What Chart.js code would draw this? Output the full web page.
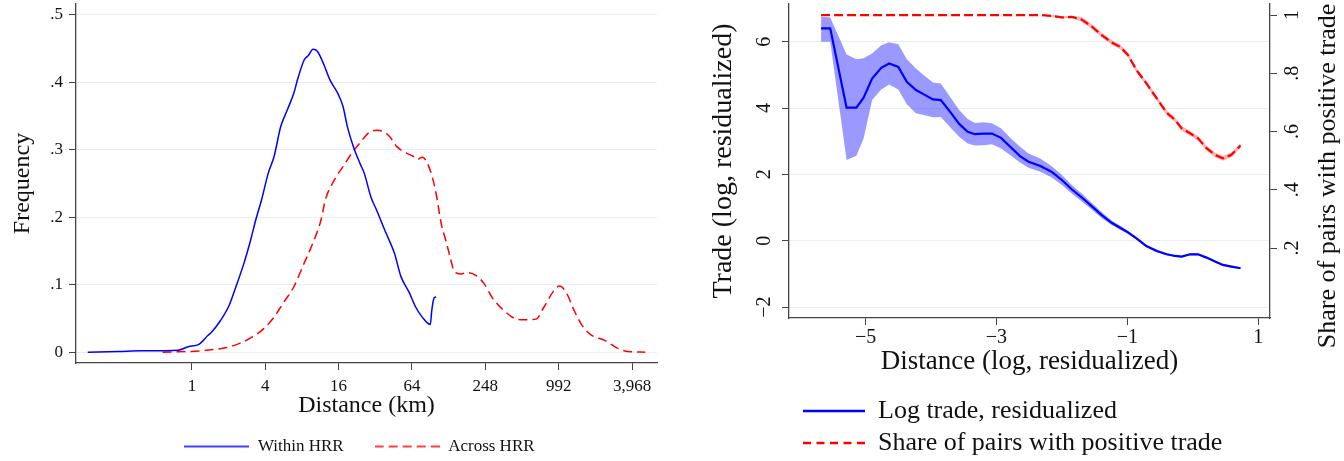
<!DOCTYPE html>
<html>
<head>
<meta charset="utf-8">
<script src="https://cdn.jsdelivr.net/npm/chart.js@4/dist/chart.umd.min.js"></script>
<style>
  html, body { margin: 0; padding: 0; background: #fff; }
  #wrap { position: relative; width: 1344px; height: 461px; overflow: hidden; }
  canvas { position: absolute; top: 0; }
  #left { left: 0; }
  #right { left: 680px; }
</style>
</head>
<body>
<div id="wrap">
  <canvas id="left" width="670" height="461"></canvas>
  <canvas id="right" width="664" height="461"></canvas>
</div>
<script>
// Left panel: density of pair distances, x in log-4 tick units (0 = 1 km)
const withinDist = [-1.42, -1.0, -0.70, -0.19, -0.05, 0.10, 0.22, 0.27, 0.39, 0.51, 0.60, 0.71, 0.80, 0.87, 0.95,
  1.04, 1.12, 1.21, 1.30, 1.39, 1.44, 1.53, 1.59, 1.65, 1.71, 1.80, 1.88, 2.00, 2.06, 2.12, 2.20, 2.29, 2.35,
  2.44, 2.52, 2.64, 2.76, 2.85, 2.96, 3.05, 3.14, 3.25, 3.27, 3.30, 3.33];
const withinFreq = [0, 0.001, 0.002, 0.003, 0.008, 0.012, 0.025, 0.030, 0.047, 0.070, 0.097, 0.132, 0.166, 0.196, 0.226,
  0.265, 0.290, 0.334, 0.359, 0.384, 0.404, 0.433, 0.440, 0.449, 0.446, 0.426, 0.404, 0.381, 0.364, 0.334, 0.305, 0.280, 0.265,
  0.230, 0.210, 0.178, 0.147, 0.112, 0.089, 0.067, 0.052, 0.041, 0.062, 0.080, 0.082];
const acrossDist = [-0.40, 0.13, 0.30, 0.48, 0.65, 0.83, 0.98, 1.12, 1.24, 1.39, 1.53, 1.65, 1.76, 1.82, 1.94, 2.06, 2.18,
  2.29, 2.41, 2.52, 2.61, 2.70, 2.79, 2.91, 3.02, 3.08, 3.14, 3.23, 3.32, 3.40, 3.46, 3.52, 3.58, 3.67, 3.75, 3.87, 3.98,
  4.10, 4.25, 4.40, 4.54, 4.69, 4.80, 4.92, 5.01, 5.10, 5.21, 5.33, 5.45, 5.62, 5.80, 5.95, 6.18];
const acrossFreq = [0, 0.002, 0.004, 0.007, 0.013, 0.023, 0.035, 0.052, 0.072, 0.097, 0.132, 0.162, 0.196, 0.226, 0.255, 0.275, 0.295,
  0.310, 0.325, 0.329, 0.327, 0.319, 0.305, 0.296, 0.290, 0.286, 0.289, 0.275, 0.240, 0.190, 0.166, 0.141, 0.119, 0.116, 0.118, 0.114, 0.102,
  0.080, 0.062, 0.050, 0.048, 0.049, 0.067, 0.089, 0.098, 0.089, 0.062, 0.038, 0.025, 0.018, 0.006, 0.001, 0];
const distTicks = [0, 1, 2, 3, 4, 5, 6];
const distTickLabels = ['1', '4', '16', '64', '248', '992', '3,968'];
const freqTicks = [0, 0.1, 0.2, 0.3, 0.4, 0.5];
const freqTickLabels = ['0', '.1', '.2', '.3', '.4', '.5'];

// Right panel: binned log trade and share of pairs trading
const distX = [-5.68, -5.54, -5.29, -5.14, -5.03, -4.90, -4.76, -4.64, -4.50, -4.37, -4.23, -4.11, -3.97, -3.85, -3.71, -3.57,
  -3.44, -3.33, -3.20, -3.07, -2.93, -2.79, -2.64, -2.51, -2.33, -2.16, -2.00, -1.85, -1.70, -1.55, -1.39, -1.24, -1.11, -0.99,
  -0.86, -0.71, -0.55, -0.40, -0.27, -0.17, -0.04, 0.08, 0.21, 0.34, 0.46, 0.59, 0.73];
const tradeY = [6.40, 6.40, 4.01, 4.01, 4.31, 4.89, 5.21, 5.34, 5.24, 4.79, 4.54, 4.41, 4.26, 4.24, 3.89, 3.52,
  3.28, 3.21, 3.23, 3.23, 3.10, 2.83, 2.55, 2.38, 2.25, 2.08, 1.83, 1.55, 1.31, 1.05, 0.77, 0.54, 0.39, 0.25,
  0.07, -0.16, -0.31, -0.41, -0.46, -0.48, -0.41, -0.41, -0.51, -0.63, -0.73, -0.78, -0.83];
const tradeHi = [6.75, 6.73, 5.61, 5.47, 5.50, 5.64, 5.89, 5.98, 5.92, 5.47, 5.19, 4.99, 4.77, 4.74, 4.34, 3.94,
  3.67, 3.55, 3.57, 3.54, 3.39, 3.10, 2.83, 2.63, 2.48, 2.25, 1.98, 1.68, 1.43, 1.15, 0.86, 0.61, 0.45, 0.30,
  0.11, -0.12, -0.27, -0.38, -0.43, -0.45, -0.38, -0.38, -0.48, -0.60, -0.70, -0.75, -0.80];
const tradeLo = [6.00, 6.00, 2.43, 2.56, 3.08, 4.24, 4.56, 4.71, 4.56, 4.11, 3.84, 3.79, 3.72, 3.73, 3.43, 3.13,
  2.93, 2.87, 2.88, 2.91, 2.78, 2.58, 2.36, 2.20, 2.08, 1.91, 1.68, 1.42, 1.19, 0.95, 0.68, 0.47, 0.33, 0.20,
  0.03, -0.20, -0.35, -0.44, -0.49, -0.51, -0.44, -0.44, -0.54, -0.66, -0.76, -0.81, -0.86];
const shareY = [1, 1, 1, 1, 1, 1, 1, 1, 1, 1, 1, 1, 1, 1, 1, 1, 1, 1, 1, 1, 1, 1, 1, 1, 1,
  0.997, 0.992, 0.994, 0.985, 0.962, 0.931, 0.906, 0.891, 0.863, 0.811, 0.766, 0.714, 0.665, 0.640, 0.611, 0.594,
  0.577, 0.543, 0.520, 0.508, 0.520, 0.552];
const shareHi = [1, 1, 1, 1, 1, 1, 1, 1, 1, 1, 1, 1, 1, 1, 1, 1, 1, 1, 1, 1, 1, 1, 1, 1, 1,
  1.001, 0.996, 0.998, 0.993, 0.970, 0.939, 0.914, 0.899, 0.871, 0.819, 0.774, 0.722, 0.673, 0.648, 0.619, 0.602,
  0.585, 0.551, 0.528, 0.516, 0.528, 0.560];
const shareLo = [1, 1, 1, 1, 1, 1, 1, 1, 1, 1, 1, 1, 1, 1, 1, 1, 1, 1, 1, 1, 1, 1, 1, 1, 1,
  0.993, 0.988, 0.990, 0.977, 0.954, 0.923, 0.898, 0.883, 0.855, 0.803, 0.758, 0.706, 0.657, 0.632, 0.603, 0.586,
  0.569, 0.535, 0.512, 0.500, 0.512, 0.544];
const residTicks = [-5, -3, -1, 1];
const residTickLabels = ['\u22125', '\u22123', '\u22121', '1'];
const tradeTicks = [-2, 0, 2, 4, 6];
const tradeTickLabels = ['\u22122', '0', '2', '4', '6'];
const shareTicks = [0.2, 0.4, 0.6, 0.8, 1];
const shareTickLabels = ['.2', '.4', '.6', '.8', '1'];

const AXIS = '#444';
const GRID = '#e8eff2';
const TEXT = '#111';

Chart.defaults.font.family = '"Liberation Serif", "Times New Roman", serif';
Chart.defaults.color = TEXT;
Chart.defaults.animation = false;

function pts(xs, ys) {
  return xs.map((x, i) => ({ x, y: ys[i] }));
}

// Force exact tick values (Stata style axes)
function fixTicks(values) {
  return (scale) => { scale.ticks = values.map((v) => ({ value: v })); };
}

// Set the box size of a scale and drop the auto label padding
function boxSize(w, h) {
  return (scale) => {
    if (w != null) scale.width = w;
    if (h != null) scale.height = h;
    scale.paddingTop = 0; scale.paddingBottom = 0;
    scale.paddingLeft = 0; scale.paddingRight = 0;
  };
}

// Small canvas used as the legend key (line sample, solid or dashed)
function lineKey(w, color, width, dash) {
  const c = document.createElement('canvas');
  c.width = w;
  c.height = 8;
  const g = c.getContext('2d');
  g.strokeStyle = color;
  g.lineWidth = width;
  g.setLineDash(dash || []);
  g.beginPath();
  g.moveTo(0, 4);
  g.lineTo(w, 4);
  g.stroke();
  return c;
}

// Nudge the legend after layout (and give it room so it is not clipped)
const legendShift = {
  id: 'legendShift',
  afterLayout(chart, args, opts) {
    const lg = chart.legend;
    if (!lg) return;
    const dx = opts.dx || 0;
    const dy = opts.dy || 0;
    lg.left += dx; lg.right += dx;
    lg.top += dy;
    lg.bottom = opts.h ? lg.top + opts.h : lg.bottom + dy;
    lg.height = lg.bottom - lg.top;
  },
};

// Right axis title, reading bottom to top like the left one
const rightTitle = {
  id: 'rightTitle',
  afterDraw(chart, args, opts) {
    if (!opts.text) return;
    const { ctx } = chart;
    ctx.save();
    ctx.translate(opts.x, opts.y);
    ctx.rotate(-Math.PI / 2);
    ctx.font = `${opts.size}px "Liberation Serif", serif`;
    ctx.fillStyle = TEXT;
    ctx.textAlign = 'center';
    ctx.textBaseline = 'middle';
    ctx.fillText(opts.text, 0, 0);
    ctx.restore();
  },
};

new Chart(document.getElementById('left'), {
  type: 'line',
  data: {
    datasets: [
      {
        label: 'Within HRR',
        data: pts(withinDist, withinFreq),
        borderColor: '#0000ff',
        borderWidth: 1.5,
        pointRadius: 0,
        pointStyle: lineKey(65, '#0000ff', 1.5),
        cubicInterpolationMode: 'monotone',
        fill: false,
      },
      {
        label: 'Across HRR',
        data: pts(acrossDist, acrossFreq),
        borderColor: '#ff0000',
        borderWidth: 1.5,
        borderDash: [9, 5],
        pointRadius: 0,
        pointStyle: lineKey(65, '#ff0000', 1.5, [9, 5]),
        cubicInterpolationMode: 'monotone',
        fill: false,
      },
    ],
  },
  options: {
    responsive: false,
    layout: { padding: { left: 0, right: 13, top: 4, bottom: 4 } },
    plugins: {
      legend: {
        position: 'bottom',
        maxHeight: 37,
        labels: {
          usePointStyle: true,
          pointStyleWidth: 65,
          padding: 31,
          color: TEXT,
          font: { size: 17 },
        },
      },
      tooltip: { enabled: false },
      legendShift: { dx: 31, dy: -13, h: 54 },
    },
    scales: {
      x: {
        type: 'linear',
        min: -1.58,
        max: 6.34,
        afterBuildTicks: fixTicks(distTicks),
        afterFit: boxSize(null, 57),
        ticks: {
          callback: (v, i) => distTickLabels[i],
          font: { size: 17 },
          padding: 6,
          maxRotation: 0,
          autoSkip: false,
        },
        grid: { drawOnChartArea: false, tickLength: 7, color: AXIS, tickColor: AXIS },
        border: { display: true, color: AXIS, width: 1.3 },
        title: { display: true, text: 'Distance (km)', font: { size: 24 }, padding: 0 },
      },
      y: {
        min: -0.016,
        max: 0.516,
        afterBuildTicks: fixTicks(freqTicks),
        afterFit: boxSize(76, null),
        ticks: {
          callback: (v, i) => freqTickLabels[i],
          font: { size: 17 },
          padding: 6,
          autoSkip: false,
        },
        grid: { color: GRID, lineWidth: 1, tickLength: 7, tickColor: AXIS },
        border: { display: true, color: AXIS, width: 1.3 },
        title: { display: true, text: 'Frequency', font: { size: 24 }, padding: { top: 8, bottom: 0 } },
      },
    },
  },
  plugins: [legendShift],
});

new Chart(document.getElementById('right'), {
  type: 'line',
  data: {
    datasets: [
      {
        label: 'Log trade, residualized',
        data: pts(distX, tradeY),
        yAxisID: 'y',
        borderColor: '#0000ff',
        borderWidth: 2.2,
        pointRadius: 0,
        pointStyle: lineKey(62, '#0000ff', 2.5),
        fill: false,
        order: 2,
      },
      {
        data: pts(distX, tradeHi),
        yAxisID: 'y',
        borderWidth: 0,
        borderColor: 'rgba(0,0,0,0)',
        backgroundColor: 'rgba(0,0,255,0.4)',
        pointRadius: 0,
        fill: '+1',
        order: 3,
      },
      {
        data: pts(distX, tradeLo),
        yAxisID: 'y',
        borderWidth: 0,
        borderColor: 'rgba(0,0,0,0)',
        pointRadius: 0,
        fill: false,
        order: 3,
      },
      {
        label: 'Share of pairs with positive trade',
        data: pts(distX, shareY),
        yAxisID: 'y1',
        borderColor: '#ff0000',
        borderWidth: 2.2,
        borderDash: [9, 4],
        pointRadius: 0,
        pointStyle: lineKey(62, '#ff0000', 2.5, [8, 5.5]),
        fill: false,
        order: 0,
      },
      {
        data: pts(distX, shareHi),
        yAxisID: 'y1',
        borderWidth: 0,
        borderColor: 'rgba(0,0,0,0)',
        backgroundColor: 'rgba(255,0,0,0.3)',
        pointRadius: 0,
        fill: '+1',
        order: 1,
      },
      {
        data: pts(distX, shareLo),
        yAxisID: 'y1',
        borderWidth: 0,
        borderColor: 'rgba(0,0,0,0)',
        pointRadius: 0,
        fill: false,
        order: 1,
      },
    ],
  },
  options: {
    responsive: false,
    layout: { padding: { left: 0, right: 0, top: 4, bottom: 7 } },
    plugins: {
      legend: {
        position: 'bottom',
        align: 'start',
        labels: {
          usePointStyle: true,
          pointStyleWidth: 62,
          padding: 6,
          color: TEXT,
          font: { size: 26 },
          filter: (item) => !!item.text,
          sort: (a, b) => a.datasetIndex - b.datasetIndex,
        },
      },
      tooltip: { enabled: false },
      legendShift: { dx: 117, dy: 12, h: 80 },
      rightTitle: { text: 'Share of pairs with positive trade', size: 26, x: 648, y: 176 },
    },
    scales: {
      x: {
        type: 'linear',
        min: -6.17,
        max: 1.18,
        afterBuildTicks: fixTicks(residTicks),
        afterFit: boxSize(null, 62),
        ticks: {
          callback: (v, i) => residTickLabels[i],
          font: { size: 20 },
          padding: 1,
          maxRotation: 0,
          autoSkip: false,
        },
        grid: { drawOnChartArea: false, tickLength: 7, color: AXIS, tickColor: AXIS },
        border: { display: true, color: AXIS, width: 1.3 },
        title: { display: true, text: 'Distance (log, residualized)', font: { size: 27 }, padding: { top: 0, bottom: 2 } },
      },
      y: {
        position: 'left',
        min: -2.33,
        max: 7.135,
        afterBuildTicks: fixTicks(tradeTicks),
        afterFit: boxSize(109, null),
        ticks: {
          callback: (v, i) => tradeTickLabels[i],
          font: { size: 20 },
          padding: 7,
          minRotation: 90,
          maxRotation: 90,
          crossAlign: 'center',
          autoSkip: false,
        },
        grid: { color: GRID, lineWidth: 1, tickLength: 7, tickColor: AXIS },
        border: { display: true, color: AXIS, width: 1.3 },
        title: { display: true, text: 'Trade (log, residualized)', font: { size: 28 }, padding: { top: 27, bottom: 0 } },
      },
      y1: {
        position: 'right',
        min: -0.04,
        max: 1.038,
        afterBuildTicks: fixTicks(shareTicks),
        afterFit: boxSize(74, null),
        ticks: {
          callback: (v, i) => shareTickLabels[i],
          font: { size: 20 },
          padding: 8,
          minRotation: 90,
          maxRotation: 90,
          crossAlign: 'center',
          autoSkip: false,
        },
        grid: { drawOnChartArea: false, tickLength: 7, color: AXIS, tickColor: AXIS },
        border: { display: true, color: AXIS, width: 1.3 },
      },
    },
  },
  plugins: [legendShift, rightTitle],
});
</script>
</body>
</html>
